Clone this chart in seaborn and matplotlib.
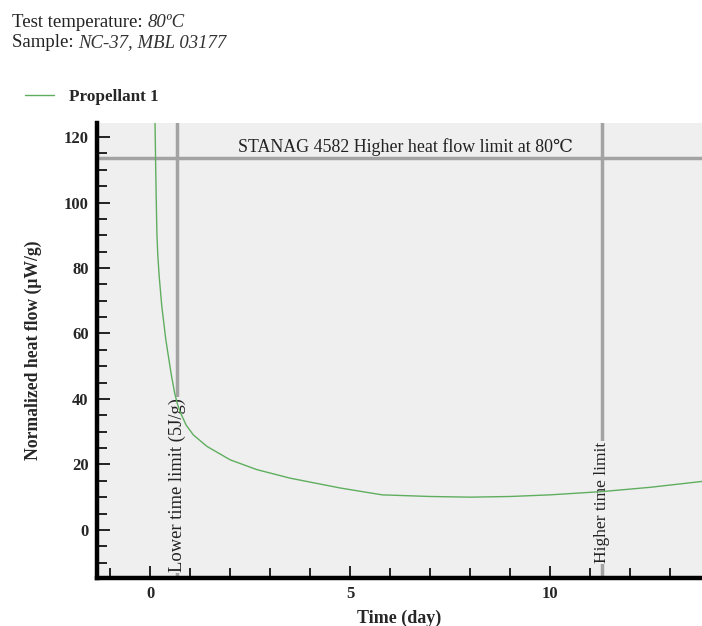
import matplotlib
matplotlib.use("Agg")
import matplotlib.pyplot as plt
from matplotlib.ticker import MultipleLocator
import seaborn as sns
import pandas as pd

# ---- data ----
time_day = [0.12, 0.135, 0.15, 0.167, 0.19, 0.225, 0.29, 0.39, 0.52, 0.61, 0.68, 0.75,
            0.9, 1.08, 1.42, 2.0, 2.67, 3.5, 4.75, 5.8, 7.0, 8.0, 9.0, 10.0, 11.3,
            12.5, 13.8]
heat_flow = [125, 113, 102, 91, 84, 77.5, 68.4, 58.2, 48.0, 41.9, 38.5, 36.0,
             32.0, 29.0, 25.5, 21.4, 18.4, 15.8, 12.8, 10.7, 10.2, 10.0, 10.2, 10.7, 11.7,
             13.0, 14.8]
series_name = "Propellant 1"
heat_flow_limit = 113.7
lower_time_limit = 0.68
higher_time_limit = 11.3
x_ticks = [0, 5, 10]
y_ticks = [0, 20, 40, 60, 80, 100, 120]

df = pd.DataFrame({"Time (day)": time_day, "heat": heat_flow})

sns.set_style("white")
plt.rcParams["font.family"] = ["Liberation Serif", "DejaVu Serif"]

fig = plt.figure(figsize=(7.02, 6.26), dpi=100)
ax = fig.add_axes([97 / 702, 48 / 626, 605 / 702, 455 / 626])
ax.set_facecolor("#efefef")

sns.lineplot(data=df, x="Time (day)", y="heat", ax=ax, color="#5fae5f",
             linewidth=1.0, label=series_name, sort=False, zorder=5)

gray = "#a3a3a3"
ax.axhline(heat_flow_limit, color=gray, linewidth=2.5, zorder=1)
ax.axvline(lower_time_limit, color=gray, linewidth=2.5, zorder=1)
ax.axvline(higher_time_limit, color=gray, linewidth=2.5, zorder=1)

ax.set_xlim(-1.33, 13.8)
ax.set_ylim(-14.7, 124.3)

ax.text(6.375, 117.0, "STANAG 4582 Higher heat flow limit at 80\u2103",
        ha="center", va="center", fontsize=12.9, color="#222222", zorder=3)
ax.text(lower_time_limit, -12.9, "Lower time limit (5J/g)", rotation=90,
        ha="center", va="bottom", fontsize=13.3, color="#222222", zorder=3,
        bbox=dict(facecolor="#efefef", edgecolor="none", pad=0.5))
ax.text(higher_time_limit, -10.1, "Higher time limit", rotation=90,
        ha="center", va="bottom", fontsize=12.5, color="#222222", zorder=3,
        bbox=dict(facecolor="#efefef", edgecolor="none", pad=0.5))

# spines
for s in ["top", "right"]:
    ax.spines[s].set_visible(False)
for s in ["left", "bottom"]:
    ax.spines[s].set_linewidth(3.2)
    ax.spines[s].set_color("black")

ax.set_xticks(x_ticks)
ax.set_yticks(y_ticks)
ax.xaxis.set_minor_locator(MultipleLocator(1))
ax.yaxis.set_minor_locator(MultipleLocator(5))
ax.tick_params(which="both", direction="in", color="black", width=1.2,
               bottom=True, left=True, top=False, right=False)
ax.tick_params(which="major", length=9, labelsize=12, pad=6)
ax.tick_params(which="minor", length=7)
for lab in ax.get_xticklabels() + ax.get_yticklabels():
    lab.set_fontweight("bold")

ax.set_xlabel("Time (day)", fontsize=13, fontweight="bold", labelpad=5)
ax.set_ylabel("Normalized heat flow (\u03bcW/g)", fontsize=12.7, fontweight="bold")
ax.yaxis.set_label_coords(-0.091, 0.5)

ax.legend(loc="center left", bbox_to_anchor=(25 / 702, 1 - 97 / 626),
          bbox_transform=fig.transFigure, frameon=False, borderaxespad=0,
          borderpad=0, handlelength=1.7, handletextpad=0.9,
          prop={"weight": "bold", "size": 12.3})

# header
t1 = fig.text(12 / 702, 1 - 27 / 626, "Test temperature: ", fontsize=13.5,
              va="baseline", color="#222222")
fig.canvas.draw()
ax.annotate("80\u00baC", xy=(1, 0), xycoords=t1, va="bottom", ha="left",
            fontsize=13.5, style="italic", color="#333333", annotation_clip=False)
t2 = fig.text(12 / 702, 1 - 47 / 626, "Sample: ", fontsize=13.5,
              va="baseline", color="#222222")
ax.annotate("NC-37, MBL 03177", xy=(1, 0), xycoords=t2, va="bottom", ha="left",
            fontsize=13.5, style="italic", color="#333333", annotation_clip=False)

fig.savefig("out.png", dpi=100)
